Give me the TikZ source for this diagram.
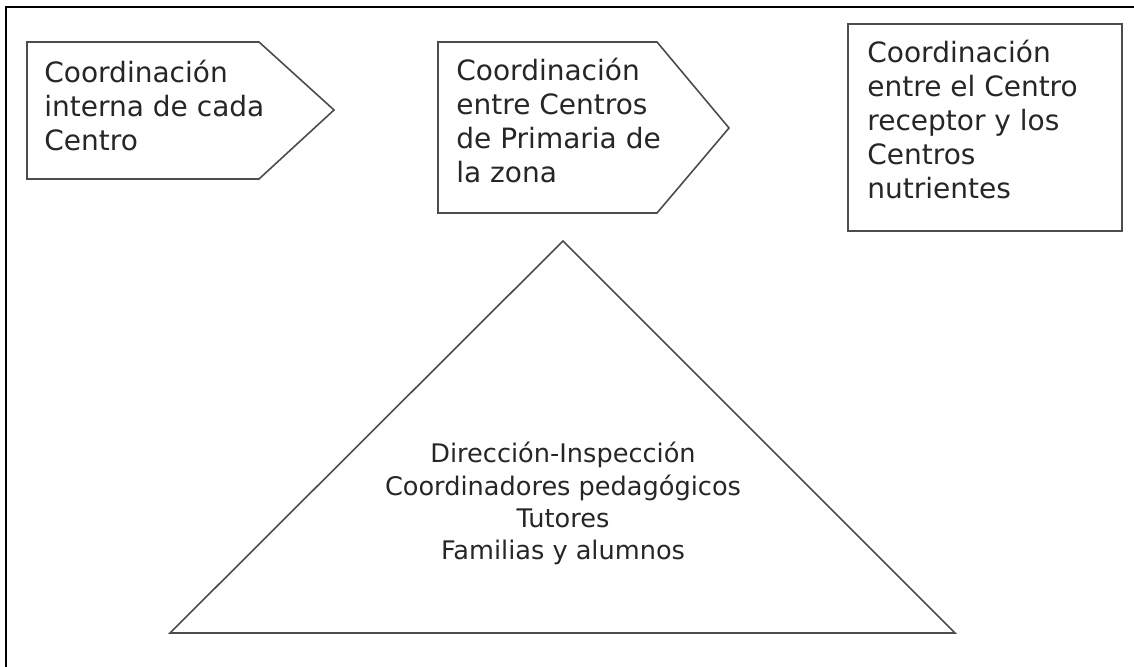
\documentclass[tikz,border=0pt]{standalone}
\usepackage{fontspec}
\setmainfont{DejaVu Sans}
\usetikzlibrary{calc,%
		positioning}

\begin{document}
\begin{tikzpicture}[x=0.5pt,y=-0.5pt,
	forma/.style={draw=black!70,line width=0.8pt},
	texto/.style={anchor=base west,align=left,inner sep=0pt,text=black!85,font=\fontsize{14}{17}\selectfont},
	piram/.style={anchor=base,align=center,inner sep=0pt,text=black!85,font=\fontsize{12.8}{16}\selectfont}]

\useasboundingbox (0,0) rectangle (1134,667);

% marco
\draw[line width=1pt] (6,667) -- (6,7) -- (1134,7);

\begin{scope}
\coordinate (p1) at (27,42);
\coordinate (p2) at (438,42);
\coordinate (r) at (848,24);

\draw[forma] (p1) -- +(232,0) -- +(307,68) -- +(232,137) -- +(0,137) -- cycle;
\draw[forma] (p2) -- +(219,0) -- +(291,86) -- +(219,171) -- +(0,171) -- cycle;
\draw[forma] (r) rectangle +(274,207);

% base = ultima linea
\node[texto] (interna) at (44,151) {Coordinación\\interna de cada\\Centro};
\node[texto] (zona) at (456,183) {Coordinación\\entre Centros\\de Primaria de\\la zona};
\node[texto] (nutrientes) at (867,199) {Coordinación\\entre el Centro\\receptor y los\\Centros\\nutrientes};
\end{scope}

\begin{scope}
\coordinate (v) at (563,241);
\draw[forma] (v) -- (955,633) -- (170,633) -- cycle;

\node[piram] (niveles) at (563,559) {Dirección-Inspección\\Coordinadores pedagógicos\\Tutores\\Familias y alumnos};
\end{scope}

\end{tikzpicture}
\end{document}
